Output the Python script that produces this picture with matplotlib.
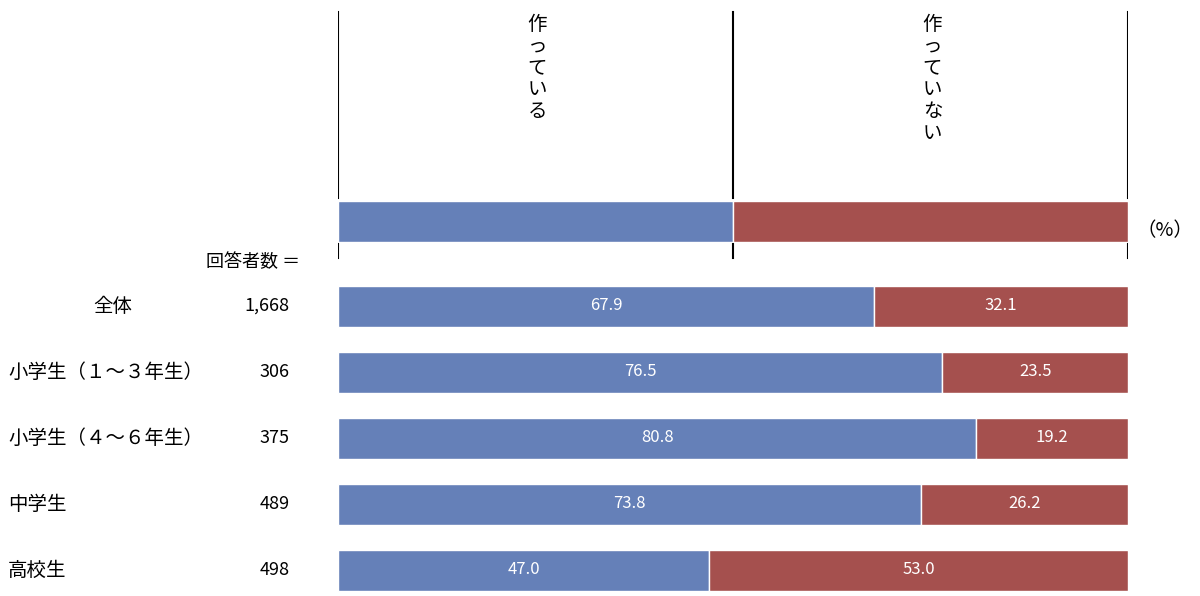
import matplotlib
matplotlib.use("Agg")
import matplotlib.pyplot as plt

categories = ["全体", "小学生（１～３年生）", "小学生（４～６年生）", "中学生", "高校生"]
counts = ["1,668", "306", "375", "489", "498"]
made = [67.9, 76.5, 80.8, 73.8, 47.0]
not_made = [32.1, 23.5, 19.2, 26.2, 53.0]
legend_labels = ["作っている", "作っていない"]
blue = "#6580B8"
red = "#A5504E"

plt.rcParams["font.family"] = "Noto Sans CJK JP"
fig = plt.figure(figsize=(12, 5.96), dpi=100)
# axes spans the full height; x maps 0..100% onto pixel 338..1128
L, R = 338/1200, 1128/1200
ax = fig.add_axes([L, 0, R - L, 1])
ax.set_xlim(0, 100)
ax.set_ylim(596, 0)
ax.axis("off")

px = 100 / 790  # percent per pixel
ys = [306 + 66*i for i in range(len(categories))]
h = 41
for y, a, b, c, n in zip(ys, made, not_made, categories, counts):
    ax.barh(y, a, height=h, color=blue, edgecolor="white", linewidth=1)
    ax.barh(y, b, left=a, height=h, color=red, edgecolor="white", linewidth=1)
    ax.text(a/2, y, f"{a:.1f}", color="white", ha="center", va="center", fontsize=12)
    ax.text(a + b/2, y, f"{b:.1f}", color="white", ha="center", va="center", fontsize=12)
    ax.text(-48*px, y, n, ha="right", va="center", fontsize=13)
    if c == "全体":
        ax.text(-225*px, y, c, ha="center", va="center", fontsize=14)
    else:
        ax.text(-330*px, y, c, ha="left", va="center", fontsize=14)

# legend bar
ly = 221
ax.barh(ly, 50, height=h, color=blue, edgecolor="white", linewidth=1)
ax.barh(ly, 50, left=50, height=h, color=red, edgecolor="white", linewidth=1)
for x in [0, 50, 100]:
    ax.plot([x, x], [12, 198], color="black", lw=1.5)
    ax.plot([x, x], [244, 258], color="black", lw=1.5)
for x, lab in zip([25, 75], legend_labels):
    ax.text(x + 2*px, 14, "\n".join(lab), ha="center", va="top", fontsize=14, linespacing=1.05)
ax.text(-38*px, 262, "回答者数 ＝", ha="right", va="center", fontsize=13)
ax.text(100 + 37*px, 231, "（%）", ha="center", va="center", fontsize=14)

fig.savefig("out.png", dpi=100)
